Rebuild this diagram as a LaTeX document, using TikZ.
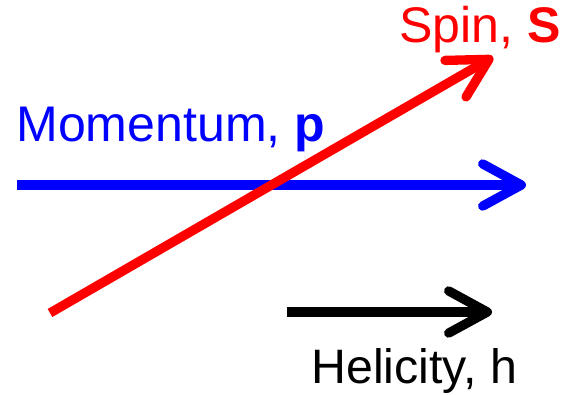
\documentclass[tikz,border=0pt]{standalone}
\usepackage{fontspec}
\setmainfont{Liberation Sans}
\usetikzlibrary{arrows.meta, positioning}

\begin{document}
\begin{tikzpicture}[
    x=0.02cm, y=-0.02cm,
    vec/.style={line width=5.3pt, line cap=butt, -{Straight Barb[length=22pt, width=24pt, round]}},
    label/.style={inner sep=0pt, anchor=base west, font=\fontsize{28.5}{32}\selectfont}
  ]
  \useasboundingbox (0,0) rectangle (562,395);
  \coordinate (P0) at (17,185);
  \coordinate (P1) at (526,185);
  \coordinate (S0) at (50,313);
  \coordinate (S1) at (493,57);
  \coordinate (H0) at (287,312);
  \coordinate (H1) at (492,312);

  \draw[vec, blue] (P0) -- (P1);
  \draw[vec, red] (S0) -- (S1);
  \draw[vec, black] (H0) -- (H1);

  \node[label, blue] (mom) at (16,142) {Momentum, \textbf{p}};
  \node[label, red] (spin) at (399,43) {Spin, \textbf{S}};
  \node[label, black, font=\fontsize{27.5}{30}\selectfont] (hel) at (311,383) {Helicity, h};
\end{tikzpicture}
\end{document}
